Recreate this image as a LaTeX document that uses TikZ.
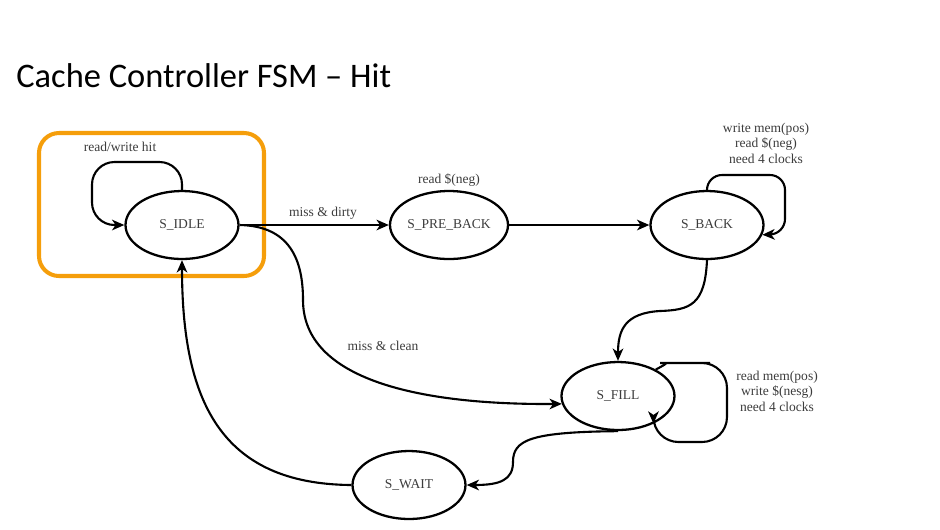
\documentclass[tikz,border=0pt]{standalone}
\usepackage{fontspec}
\setmainfont{Liberation Serif}
\newfontfamily\titlefont{Carlito}
\usetikzlibrary{shapes.geometric,arrows.meta}
\definecolor{hlorange}{RGB}{245,158,11}
\definecolor{txtgray}{RGB}{60,60,60}
\begin{document}
\begin{tikzpicture}[x=0.02cm,y=-0.02cm,
  state/.style={ellipse,draw,line width=1.3pt,minimum width=2.26cm,minimum height=1.36cm,inner sep=0pt,
    text=txtgray,font=\fontsize{7.7}{8.8}\selectfont},
  lbl/.style={text=txtgray,align=center,inner sep=0pt,font=\fontsize{7.7}{8.8}\selectfont},
  tr/.style={line width=1.2pt,-{Stealth[length=7pt,width=6pt,inset=2pt]}}]
\useasboundingbox (0,0) rectangle (940,529);
\node[anchor=base west,inner sep=0pt,font=\titlefont\fontsize{19.6}{22}\selectfont] (title) at (16,87) {Cache Controller FSM – Hit};
\draw[hlorange,line width=2.3pt,rounded corners=0.4cm] (39,133) rectangle (264,276);
\node[state] (idle) at (182,225) {S\_IDLE};
\node[state] (pre) at (449,225) {S\_PRE\_BACK};
\node[state] (back) at (707,225) {S\_BACK};
\node[state] (fill) at (618,396) {S\_FILL};
\node[state] (wait) at (409,485) {S\_WAIT};
\node[lbl] (hitlbl) at (120,147) {read/write hit};
\node[lbl] (dirtylbl) at (323,213) {miss \& dirty};
\node[lbl] (prelbl) at (449,180) {read \$(neg)};
\node[lbl] (backlbl) at (766,143) {write mem(pos)\\read \$(neg)\\need 4 clocks};
\node[lbl] (cleanlbl) at (383,346) {miss \& clean};
\node[lbl] (filllbl) at (777,391) {read mem(pos)\\write \$(nesg)\\need 4 clocks};
% loops
\coordinate (idleloop) at (92,162);
\draw[tr,rounded corners=0.45cm] (idle.north) |- (idleloop) |- (idle.west);
\coordinate (backloop1) at (785,175);
\coordinate (backloop2) at (785,234);
\draw[tr,rounded corners=0.3cm] (back.north) |- (backloop1) -- (backloop2) -- (back.-10);
\coordinate (fillloop1) at (727,363);
\coordinate (fillloop2) at (727,442);
\draw[tr,rounded corners=0.5cm] (fill.35) .. controls (668,363) .. (685,363) -- (fillloop1) -- (fillloop2) -| (fill.-38);
% transitions
\draw[tr] (idle.east) -- (pre.west);
\draw[tr] (pre.east) -- (back.west);
\draw[tr] (back.south) .. controls (705,305) and (690,310) .. (660,311) .. controls (625,313) and (618,330) .. (fill.north);
\draw[tr] (idle.east) .. controls (290,226) and (303,260) .. (303,300) .. controls (303,380) and (420,405) .. (fill.-172);
\draw[tr] (fill.south) .. controls (530,432) and (513,440) .. (513,462) .. controls (513,480) and (500,485) .. (wait.east);
\draw[tr] (wait.west) .. controls (220,484) and (182,400) .. (idle.south);
\end{tikzpicture}
\end{document}
